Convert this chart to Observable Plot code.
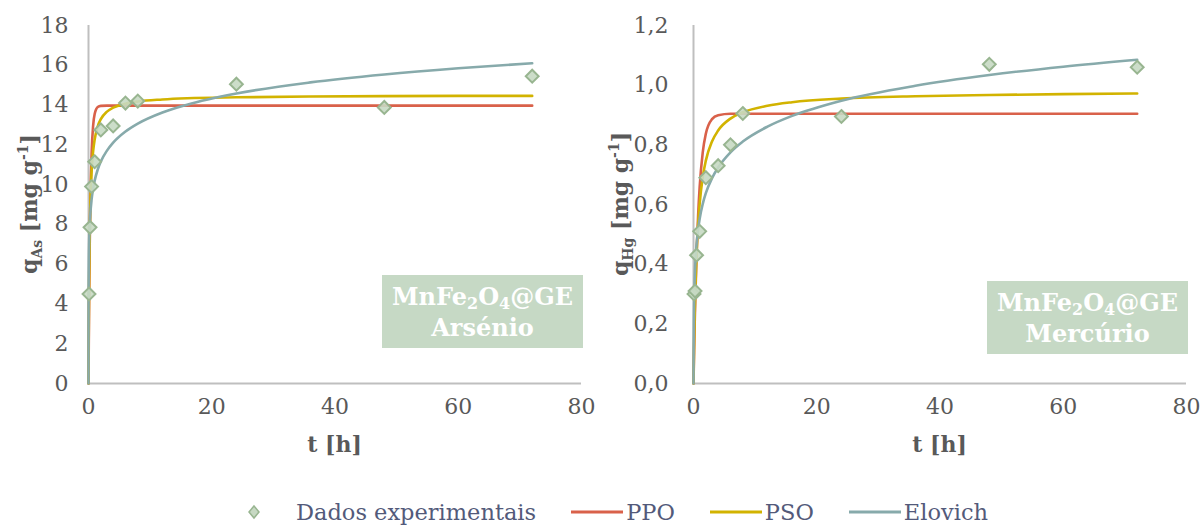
<!DOCTYPE html>
<html><head><meta charset="utf-8">
<script src="https://cdn.jsdelivr.net/npm/d3@7"></script>
<script src="https://cdn.jsdelivr.net/npm/@observablehq/plot@0.6"></script>
<style>
body{margin:0;background:#fff;font-family:"DejaVu Serif",serif;}
#wrap{position:relative;width:1202px;height:526px;overflow:hidden;background:#fff;}
.panel{position:absolute;top:0;}
.box{position:absolute;background:#c6d9c5;color:#fff;font-weight:bold;text-align:center;font-size:24px;line-height:31px;padding-top:6px;box-sizing:border-box;white-space:nowrap;}
.box sub{font-size:16px;vertical-align:-4px;line-height:0;}
#legend{position:absolute;top:498px;left:0;width:1202px;height:28px;display:flex;justify-content:flex-start;align-items:center;color:#535a7a;font-size:22.5px;padding-left:247px;box-sizing:border-box;}
.item{display:flex;align-items:center;margin-right:35px;}
.item svg{margin-right:3px;}
</style></head><body>
<div id="wrap">
  <div id="left" class="panel" style="left:0"></div>
  <div id="right" class="panel" style="left:601px"></div>
  <div class="box" style="left:382px;top:275px;width:201px;height:73px;">MnFe<sub>2</sub>O<sub>4</sub>@GE<br>Arsénio</div>
  <div class="box" style="left:987px;top:281px;width:201px;height:73px;">MnFe<sub>2</sub>O<sub>4</sub>@GE<br>Mercúrio</div>
  <div id="legend"></div>
</div>
<script>
// ---- data ----
const tExp   = [0.083, 0.25, 0.5, 1, 2, 4, 6, 8, 24, 48, 72];
const qAsExp = [4.5, 7.85, 9.9, 11.15, 12.75, 12.95, 14.1, 14.2, 15.05, 13.88, 15.45];
const qHgExp = [0.30, 0.31, 0.43, 0.51, 0.69, 0.73, 0.80, 0.905, 0.895, 1.07, 1.06];

const tFit  = [0, 0.002, 0.005, 0.01, 0.02, 0.05, 0.1, 0.2, 0.3, 0.5, 0.75, 1, 1.5, 2, 3, 4, 6, 8, 12, 16, 24, 36, 48, 60, 72];
const asPPO = [0, 0.10, 0.24, 0.48, 0.94, 2.24, 4.12, 7.03, 9.08, 11.54, 12.96, 13.55, 13.90, 13.96, 13.97, 13.97, 13.97, 13.97, 13.97, 13.97, 13.97, 13.97, 13.97, 13.97, 13.97];
const asPSO = [0, 0.16, 0.39, 0.76, 1.44, 3.13, 5.15, 7.60, 9.03, 10.63, 11.67, 12.27, 12.93, 13.29, 13.67, 13.87, 14.07, 14.18, 14.28, 14.34, 14.39, 14.43, 14.45, 14.46, 14.46];
const asElo = [0, 1.99, 3.05, 3.93, 4.84, 6.08, 7.03, 7.98, 8.54, 9.24, 9.80, 10.20, 10.76, 11.16, 11.71, 12.11, 12.67, 13.07, 13.63, 14.02, 14.58, 15.14, 15.54, 15.85, 16.10];
const hgPPO = [0, 0.002, 0.006, 0.012, 0.023, 0.057, 0.110, 0.207, 0.292, 0.432, 0.563, 0.658, 0.775, 0.837, 0.886, 0.899, 0.904, 0.904, 0.904, 0.904, 0.904, 0.904, 0.904, 0.904, 0.904];
const hgPSO = [0, 0.003, 0.008, 0.015, 0.030, 0.073, 0.135, 0.238, 0.318, 0.436, 0.535, 0.603, 0.692, 0.747, 0.811, 0.848, 0.888, 0.909, 0.931, 0.943, 0.955, 0.963, 0.967, 0.970, 0.972];
const hgElo = [0, 0.019, 0.043, 0.075, 0.121, 0.203, 0.277, 0.357, 0.405, 0.467, 0.516, 0.552, 0.602, 0.638, 0.688, 0.724, 0.775, 0.811, 0.861, 0.897, 0.948, 0.998, 1.034, 1.062, 1.085];

const xTicks = [0, 20, 40, 60, 80];
const asTicks = [0, 2, 4, 6, 8, 10, 12, 14, 16, 18];
const hgTicks = [0, 0.2, 0.4, 0.6, 0.8, 1.0, 1.2];

const seriesNames = ["Dados experimentais", "PPO", "PSO", "Elovich"];
const colors = {PPO: "#d9614a", PSO: "#d2b300", Elovich: "#87aaab"};
const diamondFill = "#c7d9c3", diamondStroke = "#98b590";
const textColor = "#595959";

function panel(opts) {
  const exp = tExp.map((t, i) => ({t, q: opts.exp[i]}));
  const fit = [];
  for (const [name, arr] of [["PPO", opts.ppo], ["PSO", opts.pso], ["Elovich", opts.elo]])
    tFit.forEach((t, i) => fit.push({t, q: arr[i], s: name}));
  const svg = Plot.plot({
    width: 601, height: 470,
    marginLeft: opts.ml, marginRight: opts.mr, marginTop: 25, marginBottom: 87,
    style: {fontFamily: "DejaVu Serif", fontSize: "22px", color: textColor, background: "transparent", overflow: "visible"},
    x: {domain: [0, 80], ticks: xTicks, tickSize: 0, tickPadding: 15, label: null},
    y: {domain: opts.yDomain, ticks: opts.yTicks, tickSize: 0, tickPadding: opts.tp, tickFormat: opts.fmt, label: null},
    marks: [
      Plot.ruleY([0], {stroke: "#bfbfbf", strokeWidth: 2}),
      Plot.ruleX([0], {stroke: "#bfbfbf", strokeWidth: 2}),
      Plot.line(fit, {x: "t", y: "q", z: "s", stroke: d => colors[d.s], strokeWidth: 2.6, curve: "monotone-x"}),
      Plot.dot(exp, {x: "t", y: "q", symbol: "diamond2", r: 5.8, fill: diamondFill, fillOpacity: 0.9, stroke: diamondStroke, strokeWidth: 2})
    ]
  });
  const s = d3.select(svg);
  const yt = s.append("text")
    .attr("transform", `translate(${opts.yTitleX},${(25 + 383) / 2}) rotate(-90)`)
    .attr("text-anchor", "middle").attr("font-weight", "bold").attr("font-size", 22).attr("fill", textColor);
  yt.append("tspan").text("q");
  yt.append("tspan").attr("font-size", 14).attr("dy", 5).text(opts.sub);
  yt.append("tspan").attr("dy", -5).text(" [mg g");
  yt.append("tspan").attr("font-size", 14).attr("dy", -9).text("-1");
  yt.append("tspan").attr("dy", 9).text("]");
  s.append("text")
    .attr("x", opts.ml + (601 - opts.ml - opts.mr) / 2).attr("y", 452)
    .attr("text-anchor", "middle").attr("font-weight", "bold").attr("font-size", 22).attr("fill", textColor)
    .text("t [h]");
  return svg;
}

const comma = d => d3.format(".1f")(d).replace(".", ",");

document.getElementById("left").appendChild(panel({
  exp: qAsExp, ppo: asPPO, pso: asPSO, elo: asElo,
  yDomain: [0, 18], yTicks: asTicks, fmt: d => String(d),
  ml: 88, mr: 20, tp: 20, yTitleX: 37, sub: "As"
}));
document.getElementById("right").appendChild(panel({
  exp: qHgExp, ppo: hgPPO, pso: hgPSO, elo: hgElo,
  yDomain: [0, 1.2], yTicks: hgTicks, fmt: comma,
  ml: 92, mr: 16, tp: 25, yTitleX: 27, sub: "Hg"
}));

// ---- legend ----
const legend = d3.select("#legend");
seriesNames.forEach(name => {
  const first = name === seriesNames[0];
  const it = legend.append("div").attr("class", "item");
  const sw = it.append("svg").attr("width", first ? 46 : 52).attr("height", 20);
  if (first) {
    sw.append("path").attr("d", "M0,-6L5,0L0,6L-5,0Z").attr("transform", "translate(7,10)")
      .attr("fill", diamondFill).attr("stroke", diamondStroke).attr("stroke-width", 1.5);
  } else {
    sw.append("line").attr("x1", 0).attr("x2", 52).attr("y1", 10).attr("y2", 10)
      .attr("stroke", colors[name]).attr("stroke-width", 3);
  }
  it.append("span").text(name);
});
</script>
</body></html>
